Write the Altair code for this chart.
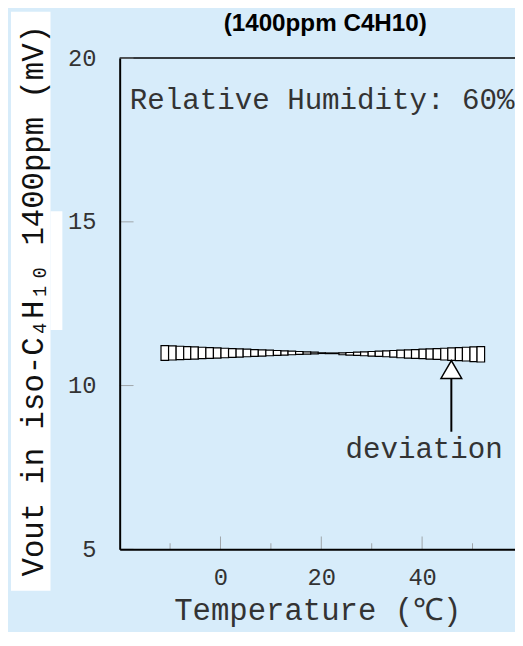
import altair as alt
import pandas as pd

# ---- data ----
edges_left = [-11.8, -10.3, -8.8, -7.3, -5.9, -4.4, -2.9, -1.4, 0.1, 1.6, 3.1, 4.5,
              6.0, 7.5, 9.0, 10.5, 12.0, 13.4, 14.9, 16.4, 17.9, 19.4, 20.8]
upper_left = [11.22, 11.21, 11.20, 11.19, 11.18, 11.17, 11.16, 11.15, 11.14, 11.13, 11.12,
              11.11, 11.10, 11.09, 11.08, 11.07, 11.06, 11.05, 11.04, 11.03, 11.02, 11.00]
lower_left = [10.77, 10.78, 10.79, 10.80, 10.81, 10.82, 10.83, 10.84, 10.85, 10.86, 10.87,
              10.88, 10.89, 10.90, 10.91, 10.92, 10.93, 10.94, 10.95, 10.96, 10.97, 10.98]
pinch_edges = [20.8, 23.5]
pinch_upper = [10.995]
pinch_lower = [10.975]
edges_right = [23.5, 24.9, 26.4, 27.8, 29.3, 30.7, 32.2, 33.6, 35.0, 36.5, 37.9, 39.4,
               40.8, 42.2, 43.7, 45.1, 46.6, 48.0, 49.5, 50.9, 52.4]
upper_right = [11.00, 11.01, 11.02, 11.03, 11.04, 11.05, 11.06, 11.07, 11.08, 11.09,
               11.10, 11.11, 11.12, 11.13, 11.14, 11.15, 11.16, 11.17, 11.18, 11.19]
lower_right = [10.94, 10.93, 10.92, 10.91, 10.90, 10.89, 10.88, 10.87, 10.85, 10.84,
               10.83, 10.82, 10.81, 10.80, 10.78, 10.77, 10.76, 10.75, 10.73, 10.72]

x_major = [0, 20, 40]
x_minor = [-10, 10, 30, 50]
y_ticks = [5, 10, 15, 20]

ann_text = ["Relative Humidity: 60%", "deviation"]
ann_x = [-18.0, 40.4]
ann_y = [18.46, 7.78]
ann_align = ["left", "center"]

arrow_x = [45.8]
arrow_y0 = [8.59]
arrow_y1 = [10.28]
arrow_head_y = [10.49]

title_text = "(1400ppm C4H10)"
x_title = "Temperature (℃)"
y_title = "Vout in iso-C₄H₁₀ 1400ppm (mV)"

# ---- build tables ----
rows = []
for edges, up, lo in [(edges_left, upper_left, lower_left),
                      (pinch_edges, pinch_upper, pinch_lower),
                      (edges_right, upper_right, lower_right)]:
    for i in range(len(up)):
        rows.append({"t0": edges[i], "t1": edges[i + 1], "lo": lo[i], "hi": up[i]})
band = pd.DataFrame(rows)

ann = pd.DataFrame({"text": ann_text, "x": ann_x, "y": ann_y, "align": ann_align})
arrow = pd.DataFrame({"x": arrow_x, "y0": arrow_y0, "y1": arrow_y1, "yh": arrow_head_y})
xmaj = pd.DataFrame({"v": x_major})
xmin = pd.DataFrame({"v": x_minor})
yt = pd.DataFrame({"v": y_ticks})

MONO = "Liberation Mono"
TXT = "#333333"

xscale = alt.Scale(domain=[-20, 58.43], nice=False, zero=False)
yscale = alt.Scale(domain=[5, 20], nice=False, zero=False)

xaxis = alt.Axis(values=x_major, ticks=False, grid=False, labelFont=MONO, labelFontSize=24,
                 labelColor=TXT, labelPadding=17, domainColor="black", domainWidth=2,
                 title=x_title, titleFont=MONO, titleFontSize=31, titleFontWeight="normal",
                 titleColor=TXT, titleY=71, titleBaseline="alphabetic", zindex=1)
yaxis = alt.Axis(values=y_ticks, ticks=False, grid=False, labelFont=MONO, labelFontSize=24,
                 labelColor=TXT, labelPadding=24, domainColor="black", domainWidth=2,
                 title=y_title, titleFont=MONO, titleFontSize=31, titleFontWeight="normal",
                 titleColor="#111111", titleX=-78, titleY=245, titleAlign="center",
                 titleBaseline="alphabetic", titleAngle=270, zindex=1)

# white patches behind the y-axis title (decoration of the original image)
patch1 = alt.Chart(pd.DataFrame({"k": [0]})).mark_rect(color="white").encode(
    x=alt.value(-110), x2=alt.value(-70), y=alt.value(-47), y2=alt.value(539))
patch2 = alt.Chart(pd.DataFrame({"k": [0]})).mark_rect(color="white").encode(
    x=alt.value(-70), x2=alt.value(-58), y=alt.value(155), y2=alt.value(275))

bars = alt.Chart(band).mark_rect(fill="white", stroke="black", strokeWidth=1.2).encode(
    x=alt.X("t0:Q", scale=xscale, axis=xaxis),
    x2="t1",
    y=alt.Y("lo:Q", scale=yscale, axis=yaxis),
    y2="hi",
)

top_border = alt.Chart(pd.DataFrame({"k": [0]})).mark_rule(color="black", strokeWidth=1.5).encode(
    y=alt.datum(20))

tick_major = alt.Chart(xmaj).mark_tick(orient="vertical", size=13, thickness=1,
                                       yOffset=-6.5, color="#888888").encode(
    x="v:Q", y=alt.datum(5))
tick_minor = alt.Chart(xmin).mark_tick(orient="vertical", size=6, thickness=1,
                                       yOffset=-3, color="#888888").encode(
    x="v:Q", y=alt.datum(5))
tick_y = alt.Chart(yt).mark_tick(orient="horizontal", size=14, thickness=1,
                                 xOffset=7, color="#888888").encode(
    y="v:Q", x=alt.datum(-20))

texts_left = alt.Chart(ann[ann["align"] == "left"]).mark_text(
    align="left", baseline="alphabetic", font=MONO, fontSize=29.5, color=TXT).encode(
    x="x:Q", y="y:Q", text="text:N")
texts_center = alt.Chart(ann[ann["align"] == "center"]).mark_text(
    align="center", baseline="alphabetic", font=MONO, fontSize=29.5, color=TXT).encode(
    x="x:Q", y="y:Q", text="text:N")

arrow_line = alt.Chart(arrow).mark_rule(color="black", strokeWidth=2).encode(
    x="x:Q", y="y0:Q", y2="y1")
arrow_head = alt.Chart(arrow).mark_point(shape="triangle-up", size=440, filled=True,
                                         fill="white", stroke="black", strokeWidth=1.5,
                                         opacity=1).encode(
    x="x:Q", y="yh:Q")

chart = alt.layer(
    patch1, patch2, bars, top_border, tick_major, tick_minor, tick_y,
    texts_left, texts_center, arrow_line, arrow_head
).properties(
    width=400, height=497,
    autosize=alt.AutoSizeParams(type="none"),
    padding={"left": 113, "top": 47, "right": 0, "bottom": 80},
    background="#D7ECFA",
    title=alt.TitleParams(title_text, font="Liberation Sans", fontSize=24.5, fontWeight="bold",
                          color="black", anchor="middle", baseline="alphabetic",
                          offset=0, dy=44, dx=8),
).configure_view(stroke=None, fill=None)

chart.save("out.html", embed_options={"renderer": "svg", "actions": False})
